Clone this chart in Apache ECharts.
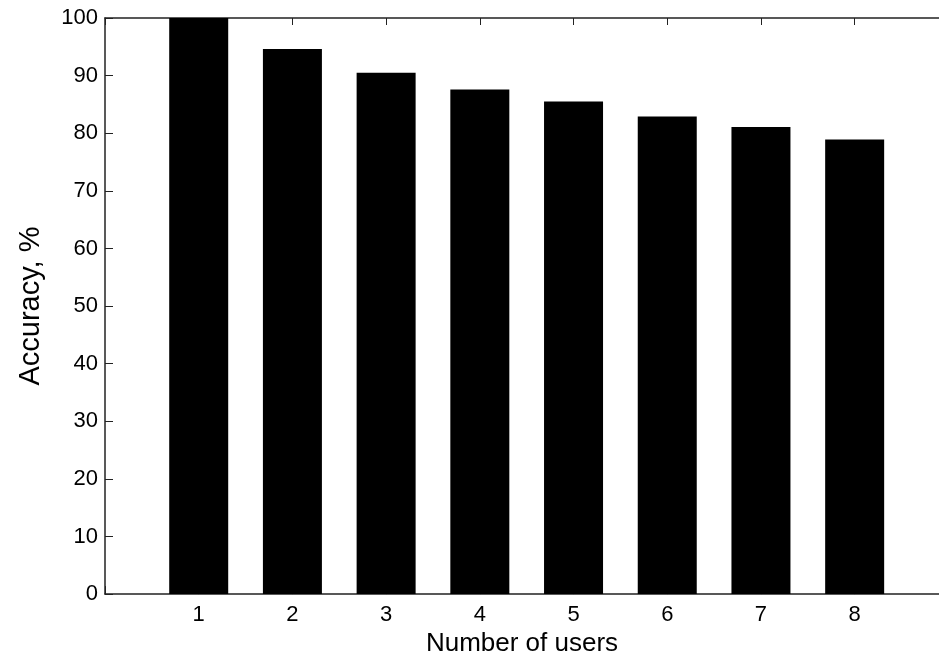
<!DOCTYPE html>
<html>
<head>
<meta charset="utf-8">
<script src="https://cdn.jsdelivr.net/npm/echarts@6/dist/echarts.min.js"></script>
<style>html,body{margin:0;padding:0;background:#fff}#c{width:939px;height:662px}</style>
</head>
<body>
<div id="c"></div>
<script>
const users = [1, 2, 3, 4, 5, 6, 7, 8];
const accuracy = [100, 94.6, 90.5, 87.6, 85.5, 82.9, 81.1, 78.9];
const yTicks = [0, 10, 20, 30, 40, 50, 60, 70, 80, 90, 100];

const chart = echarts.init(document.getElementById('c'), null, {renderer: 'canvas'});
const font = 'Liberation Sans, Arial, sans-serif';
const labelFmt = v => (users.indexOf(v) >= 0 ? String(v) : '');
// x-range 0..9 as in the original, cropped at the right edge of the picture
const xMax = 8.9;
chart.setOption({
  animation: false,
  backgroundColor: '#fff',
  grid: {left: 105, top: 18, right: 0, bottom: 64, containLabel: false},
  xAxis: [{
    type: 'value', min: 0, max: xMax, interval: 1, position: 'bottom',
    name: 'Number of users', nameLocation: 'middle', nameGap: 35,
    nameTextStyle: {fontFamily: font, fontSize: 26, color: '#000'},
    axisLine: {show: true, onZero: false, lineStyle: {color: '#222', width: 1.5}},
    axisTick: {show: true, inside: true, length: 8, lineStyle: {color: '#222'}},
    axisLabel: {formatter: labelFmt, fontFamily: font, fontSize: 22, color: '#000', margin: 10, showMaxLabel: false},
    splitLine: {show: false}
  }, {
    type: 'value', min: 0, max: xMax, interval: 1, position: 'top',
    axisLine: {show: true, onZero: false, lineStyle: {color: '#222', width: 1.5}},
    axisTick: {show: true, inside: true, length: 7, lineStyle: {color: '#222'}},
    axisLabel: {show: false},
    splitLine: {show: false}
  }],
  yAxis: {
    type: 'value', min: yTicks[0], max: yTicks[yTicks.length - 1], interval: 10,
    name: 'Accuracy, %', nameLocation: 'middle', nameGap: 60,
    nameTextStyle: {fontFamily: font, fontSize: 29, color: '#000'},
    axisLine: {show: true, lineStyle: {color: '#222', width: 1.5}},
    axisTick: {show: true, inside: true, length: 8, lineStyle: {color: '#222'}},
    axisLabel: {fontFamily: font, fontSize: 22, color: '#000', margin: 7},
    splitLine: {show: false}
  },
  series: [{
    type: 'bar',
    xAxisIndex: 0,
    barWidth: 59,
    itemStyle: {color: '#000'},
    data: users.map((u, i) => [u, accuracy[i]])
  }]
});
</script>
</body>
</html>
